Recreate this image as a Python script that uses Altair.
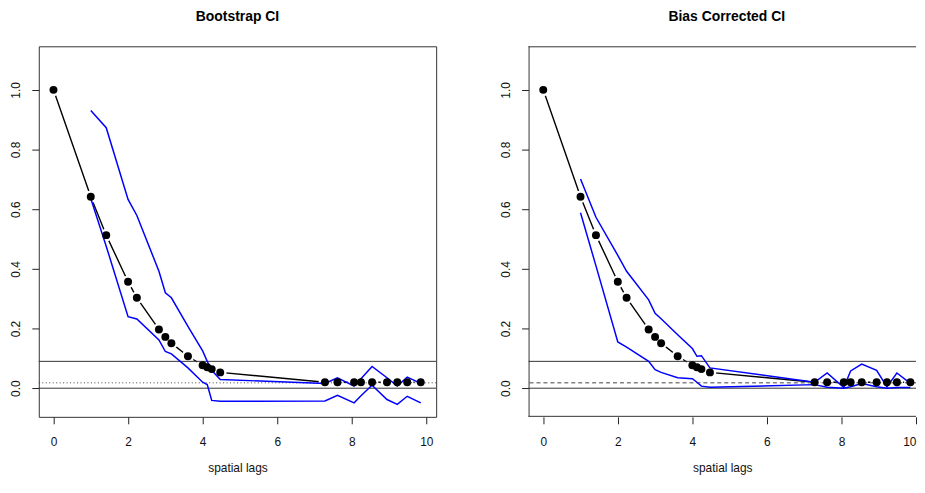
import altair as alt
import pandas as pd

# spatial lags (x) and semivariogram-type estimates (black points)
lags = [0.0, 1.0, 1.414, 2.0, 2.236, 2.828, 3.0, 3.162, 3.606, 4.0, 4.123, 4.243, 4.472,
        7.280, 7.616, 8.062, 8.246, 8.544, 8.944, 9.220, 9.487, 9.849]
estimate = [1.0, 0.642, 0.513, 0.357, 0.303, 0.197, 0.172, 0.151, 0.107, 0.077, 0.070, 0.064, 0.053,
            0.020, 0.020, 0.020, 0.020, 0.020, 0.020, 0.020, 0.020, 0.020]

# CI lags (start at lag 1)
ci_lags = lags[1:]

# Bootstrap CI
boot_upper = [0.931, 0.873, 0.633, 0.579, 0.392, 0.320, 0.303, 0.207, 0.125, 0.090, 0.060, 0.029,
              0.016, 0.035, 0.007, 0.032, 0.073, 0.035, 0.007, 0.037, 0.016]
boot_lower = [0.636, 0.476, 0.240, 0.232, 0.162, 0.123, 0.115, 0.068, 0.020, 0.012, -0.041, -0.044,
              -0.043, -0.024, -0.049, -0.025, 0.010, -0.038, -0.054, -0.027, -0.049]

# Bias corrected CI
bc_upper = [0.701, 0.573, 0.445, 0.392, 0.296, 0.251, 0.233, 0.179, 0.133, 0.107, 0.109, 0.068,
            0.020, 0.051, 0.002, 0.058, 0.081, 0.060, 0.004, 0.051, 0.016]
bc_lower = [0.588, 0.410, 0.155, 0.138, 0.090, 0.062, 0.053, 0.035, 0.032, 0.020, 0.007, 0.003,
            0.012, 0.003, 0.000, 0.005, 0.016, 0.005, 0.000, 0.002, 0.002]

ref_solid = [0.0, 0.09]
ref_mean = 0.018

x_ticks = [0, 2, 4, 6, 8, 10]
y_ticks = [0.0, 0.2, 0.4, 0.6, 0.8, 1.0]

X_MIN, X_MAX = -0.394, 10.263
Y_MIN, Y_MAX = -0.096, 1.146
HALF_PX_Y = 0.0017   # half a pixel in y data units (frame-line alignment)
HALF_PX_X = 0.0135   # half a pixel in x data units

FONT = "Liberation Sans"
BOX = "#333"

pts = pd.DataFrame({"lag": lags, "gamma": estimate})
one = pd.DataFrame({"k": [0]})


def xenc(xmax, flush, field="lag"):
    return alt.X(f"{field}:Q",
                 scale=alt.Scale(domain=[X_MIN, xmax], nice=False, zero=False),
                 axis=alt.Axis(values=x_ticks, format="d", title="spatial lags",
                               tickSize=7, labelPadding=13, titlePadding=15,
                               domain=False, grid=False, tickColor="#222",
                               labelColor="#111", titleColor="#111",
                               labelFont=FONT, titleFont=FONT,
                               labelFontSize=12, titleFontSize=12,
                               titleFontWeight="normal", labelFlush=flush))


def yenc(field):
    return alt.Y(f"{field}:Q",
                 scale=alt.Scale(domain=[Y_MIN, Y_MAX], nice=False, zero=False),
                 axis=alt.Axis(values=y_ticks, format=".1f", title=None,
                               tickSize=7, labelPadding=9, labelAngle=270,
                               labelAlign="center", labelBaseline="bottom",
                               domain=False, grid=False, tickColor="#222",
                               labelColor="#111", labelFont=FONT, labelFontSize=12))


def panel(title, upper, lower, dash, xmax, width, open_right, dx):
    ci = pd.DataFrame({"lag": ci_lags, "upper": upper, "lower": lower})
    refs = pd.DataFrame({"v": ref_solid})
    mean = pd.DataFrame({"v": [ref_mean]})
    X = lambda f="lag": xenc(xmax, open_right, f)

    line = alt.Chart(pts).mark_line(color="black", strokeWidth=1.4).encode(
        x=X(), y=yenc("gamma"))
    halo = alt.Chart(pts).mark_point(filled=True, color="white", opacity=1, size=160,
                                     strokeWidth=0).encode(x=X(), y=yenc("gamma"))
    hl = alt.Chart(refs).mark_rule(color=BOX, strokeWidth=1).encode(y=yenc("v"))
    ml = alt.Chart(mean).mark_rule(color="#444", strokeWidth=1, strokeDash=dash).encode(y=yenc("v"))
    up = alt.Chart(ci).mark_line(color="#0000ff", strokeWidth=1.5).encode(x=X(), y=yenc("upper"))
    lo = alt.Chart(ci).mark_line(color="#0000ff", strokeWidth=1.5).encode(x=X(), y=yenc("lower"))
    dots = alt.Chart(pts).mark_circle(color="black", opacity=1, size=64).encode(
        x=X(), y=yenc("gamma"))
    layers = [line, halo, hl, ml, up, lo, dots]
    props = dict(width=width, height=373,
                 title=alt.TitleParams(title, font=FONT, fontSize=14, fontWeight="bold",
                                       color="black", anchor="middle", offset=22, dx=dx))
    if open_right:
        # box continues past the window edge: draw top, bottom and left edges only
        top = alt.Chart(one).mark_rule(color=BOX, strokeWidth=1).encode(
            y=alt.datum(Y_MAX - HALF_PX_Y))
        bot = alt.Chart(one).mark_rule(color=BOX, strokeWidth=1).encode(
            y=alt.datum(Y_MIN + HALF_PX_Y))
        lft = alt.Chart(one).mark_rule(color=BOX, strokeWidth=1).encode(
            x=alt.datum(X_MIN + HALF_PX_X))
        layers += [top, bot, lft]
        props["view"] = alt.ViewBackground(strokeOpacity=0)
    return alt.layer(*layers).properties(**props)


left = panel("Bootstrap CI", boot_upper, boot_lower, [1, 2.5], X_MAX, 400, False, 0)
right = panel("Bias Corrected CI", bc_upper, bc_lower, [4, 3], 10.0, 390, True, 4.5)

chart = alt.hconcat(left, right, spacing=93, bounds="flush").properties(
    padding={"left": 1, "top": 0, "right": 0, "bottom": 0}
).configure_view(stroke=BOX, strokeWidth=1)

chart.save("out.html", embed_options={"renderer": "svg", "actions": False})
